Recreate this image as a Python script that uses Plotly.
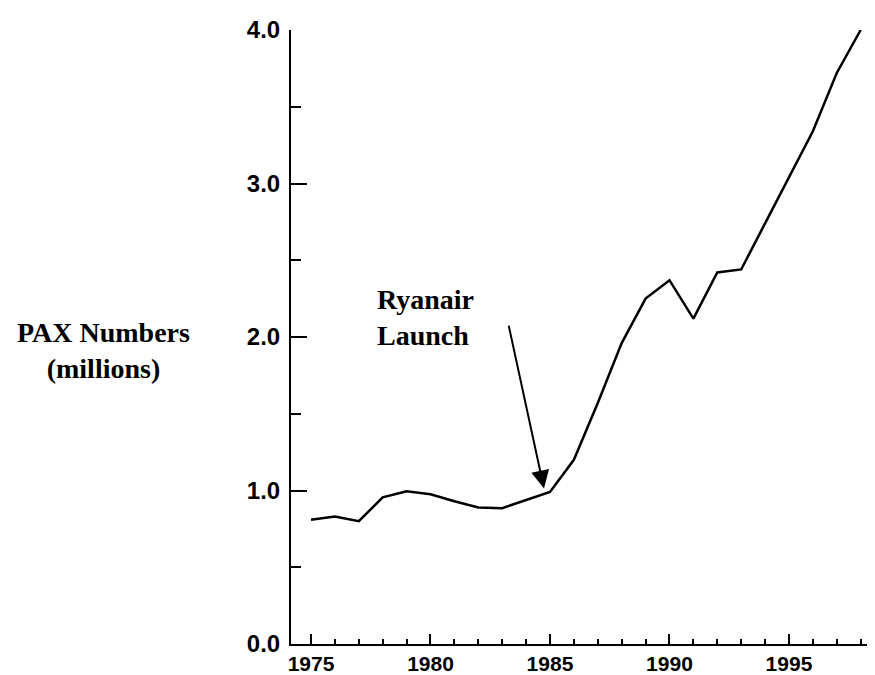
import plotly.graph_objects as go

years = list(range(1975, 1999))
pax_millions = [0.81, 0.83, 0.80, 0.955, 0.995, 0.975, 0.93, 0.89, 0.885, 0.935,
                0.99, 1.20, 1.57, 1.96, 2.25, 2.37, 2.12, 2.42, 2.44, 2.74,
                3.04, 3.34, 3.72, 4.0]

y_title = "PAX Numbers<br>(millions)"
launch_label = "Ryanair<br>Launch"
launch_year = 1984.75
launch_value = 1.013

fig = go.Figure()
fig.add_trace(go.Scatter(
    x=years, y=pax_millions, mode="lines",
    line=dict(color="black", width=2.5),
    showlegend=False, hoverinfo="skip",
))

tick_font = dict(family="Liberation Sans, Arial, sans-serif", size=24, color="black", weight="bold")

fig.update_layout(
    width=867, height=667,
    margin=dict(l=283, r=0, t=22, b=29),
    paper_bgcolor="white", plot_bgcolor="white",
    xaxis=dict(
        range=[1974.163, 1998.6],
        tickmode="linear", tick0=1975, dtick=5,
        ticks="inside", ticklen=10, tickwidth=2, tickcolor="black",
        minor=dict(dtick=1, tick0=1975, ticks="inside", ticklen=5, tickwidth=2, tickcolor="black"),
        showline=True, linecolor="black", linewidth=2,
        showgrid=False, zeroline=False,
        tickfont=dict(family="Liberation Sans, Arial, sans-serif", size=21, color="black", weight="bold"),
    ),
    yaxis=dict(
        range=[0, 4],
        tickmode="linear", tick0=0, dtick=1, tickformat=".1f",
        ticks="inside", ticklen=16, tickwidth=2, tickcolor="black",
        minor=dict(dtick=0.5, tick0=0, ticks="inside", ticklen=10, tickwidth=2, tickcolor="black"),
        showline=True, linecolor="black", linewidth=2,
        showgrid=False, zeroline=False,
        tickfont=tick_font,
        ticklabelstandoff=4,
    ),
    annotations=[
        dict(
            text=y_title, xref="paper", yref="y",
            x=(103 - 291) / 584, y=1.91, xanchor="center", yanchor="middle",
            showarrow=False, align="center",
            font=dict(family="Liberation Serif, Times New Roman, serif", size=28, color="black", weight="bold"),
        ),
        dict(
            text=launch_label, xref="x", yref="y",
            x=1977.68, y=2.13, xanchor="left", yanchor="middle",
            showarrow=False, align="left",
            font=dict(family="Liberation Serif, Times New Roman, serif", size=28, color="black", weight="bold"),
        ),
        dict(
            text="", xref="x", yref="y", axref="x", ayref="y",
            x=launch_year, y=launch_value, ax=1983.26, ay=2.084,
            showarrow=True, arrowhead=2, arrowsize=1.8, arrowwidth=2,
            arrowcolor="black", standoff=0,
        ),
    ],
)

fig.write_html("out.html")
